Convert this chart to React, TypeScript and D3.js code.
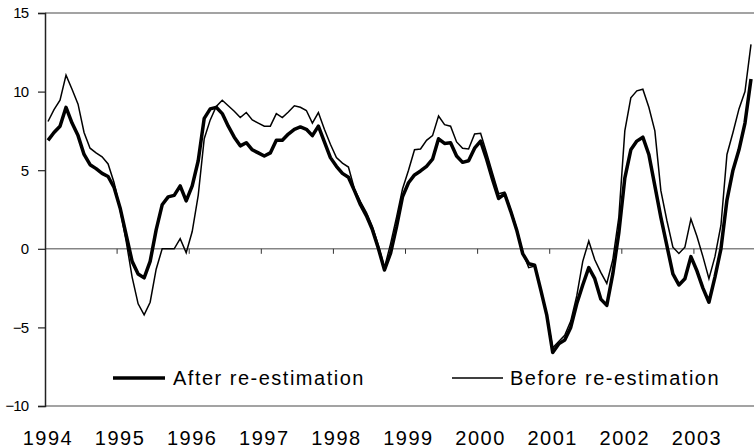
import { useEffect, useRef } from 'react';
import * as d3 from 'd3';

// monthly, Jan 1994 .. Oct 2003
const years = ['1994', '1995', '1996', '1997', '1998', '1999', '2000', '2001', '2002', '2003'];

const afterValues = [
  // 1994
  6.9, 7.4, 7.8, 9.0, 8.0, 7.2, 6.0, 5.35, 5.1, 4.8, 4.6, 3.9,
  // 1995
  2.6, 0.9, -0.8, -1.6, -1.85, -0.8, 1.2, 2.8, 3.3, 3.4, 4.0, 3.05,
  // 1996
  4.0, 5.6, 8.3, 8.9, 9.0, 8.6, 7.8, 7.1, 6.55, 6.75, 6.3, 6.1,
  // 1997
  5.9, 6.1, 6.9, 6.9, 7.3, 7.6, 7.75, 7.6, 7.2, 7.8, 6.8, 5.8,
  // 1998
  5.25, 4.8, 4.55, 3.7, 2.8, 2.1, 1.2, 0.0, -1.35, -0.3, 1.4, 3.3,
  // 1999
  4.2, 4.7, 4.95, 5.25, 5.7, 7.0, 6.7, 6.75, 5.9, 5.5, 5.6, 6.4,
  // 2000
  6.85, 5.7, 4.4, 3.2, 3.5, 2.4, 1.2, -0.3, -0.95, -1.05, -2.6, -4.2,
  // 2001
  -6.6, -6.05, -5.8, -5.0, -3.5, -2.3, -1.2, -1.9, -3.2, -3.6, -1.6, 1.0,
  // 2002
  4.5, 6.3, 6.85, 7.1, 6.0, 4.0, 2.0, 0.2, -1.6, -2.3, -1.9, -0.5,
  // 2003
  -1.4, -2.5, -3.4, -1.8, 0.0, 3.1, 5.0, 6.3, 8.0, 10.8,
];

const beforeValues = [
  // 1994
  8.1, 8.85, 9.45, 11.05, 10.15, 9.2, 7.4, 6.4, 6.1, 5.85, 5.4, 4.2,
  // 1995
  2.5, 0.5, -1.8, -3.5, -4.2, -3.4, -1.3, 0.0, 0.0, 0.0, 0.65, -0.25,
  // 1996
  1.1, 3.4, 7.0, 8.2, 9.05, 9.45, 9.1, 8.75, 8.35, 8.67, 8.2, 8.0,
  // 1997
  7.8, 7.8, 8.6, 8.35, 8.7, 9.1, 9.0, 8.8, 8.0, 8.67, 7.6, 6.65,
  // 1998
  5.8, 5.45, 5.2, 3.8, 3.0, 2.3, 1.4, 0.2, -1.2, 0.3, 2.0, 3.8,
  // 1999
  5.0, 6.3, 6.35, 6.9, 7.2, 8.45, 7.9, 7.8, 6.8, 6.4, 6.35, 7.3,
  // 2000
  7.35, 6.1, 4.8, 3.5, 3.6, 2.5, 1.3, -0.2, -1.2, -1.1, -2.6, -4.2,
  // 2001
  -6.3, -5.9, -5.5, -4.6, -3.0, -0.8, 0.5, -0.7, -1.5, -2.2, -0.7, 2.0,
  // 2002
  7.5, 9.6, 10.05, 10.15, 9.0, 7.5, 3.7, 1.8, 0.1, -0.3, 0.1, 1.9,
  // 2003
  0.8, -0.5, -1.9, -0.5, 1.5, 6.0, 7.4, 8.9, 10.0, 13.0,
];

const yTicks = [-10, -5, 0, 5, 10, 15];
const legendLabels = ['After re-estimation', 'Before re-estimation'];

const FONT = "'Liberation Sans', Arial, sans-serif";

export default function App() {
  const svgRef = useRef<SVGSVGElement>(null);

  useEffect(() => {
    if (!svgRef.current) return;
    const width = 754;
    const height = 448;
    const margin = { top: 13, right: 0, bottom: 42, left: 45 };

    const svg = d3.select(svgRef.current);
    svg.selectAll('*').remove();

    const n = afterValues.length;
    const x = d3
      .scaleLinear()
      .domain([-0.5, n - 0.5])
      .range([margin.left, width - margin.right]);
    const y = d3
      .scaleLinear()
      .domain([-10, 15])
      .range([height - margin.bottom, margin.top]);

    // horizontal frame lines + zero line
    [15, -10, 0].forEach((v) => {
      svg
        .append('line')
        .attr('x1', margin.left)
        .attr('x2', width - margin.right)
        .attr('y1', y(v))
        .attr('y2', y(v))
        .attr('stroke', '#858585')
        .attr('stroke-width', 1.5);
    });

    // year ticks on the zero line
    years.slice(1).forEach((_, i) => {
      const xi = x((i + 1) * 12 - 0.5);
      svg
        .append('line')
        .attr('x1', xi)
        .attr('x2', xi)
        .attr('y1', y(0))
        .attr('y2', y(0) + 5)
        .attr('stroke', '#333')
        .attr('stroke-width', 1);
    });

    // Y axis
    const yAxis = svg
      .append('g')
      .attr('transform', `translate(${margin.left},0)`)
      .call(d3.axisLeft(y).tickValues(yTicks).tickSize(7).tickPadding(10));
    yAxis.select('.domain').attr('stroke', '#222').attr('stroke-width', 1.5);
    yAxis.selectAll('.tick line').attr('stroke', '#222').attr('stroke-width', 1.2);
    yAxis
      .selectAll('.tick text')
      .attr('fill', '#000')
      .style('font-family', FONT)
      .style('font-size', '15px')
      .style('letter-spacing', '-1px');

    // X labels
    svg
      .append('g')
      .selectAll('text')
      .data(years)
      .join('text')
      .attr('x', (_, i) => x(i * 12))
      .attr('y', 445)
      .attr('text-anchor', 'middle')
      .style('font-family', FONT)
      .style('font-size', '20px')
      .style('letter-spacing', '1.5px')
      .text((d) => d);

    const line = d3
      .line<number>()
      .x((_, i) => x(i))
      .y((d) => y(d));

    svg
      .append('path')
      .datum(beforeValues)
      .attr('fill', 'none')
      .attr('stroke', '#000')
      .attr('stroke-width', 1.5)
      .attr('stroke-linejoin', 'miter')
      .attr('d', line);

    svg
      .append('path')
      .datum(afterValues)
      .attr('fill', 'none')
      .attr('stroke', '#000')
      .attr('stroke-width', 3.5)
      .attr('stroke-linejoin', 'round')
      .attr('d', line);

    // Legend
    const legend = [
      { label: legendLabels[0], x1: 113, x2: 165, tx: 173, w: 3.5 },
      { label: legendLabels[1], x1: 452, x2: 503, tx: 510, w: 1.5 },
    ];
    legend.forEach((l) => {
      svg
        .append('line')
        .attr('x1', l.x1)
        .attr('x2', l.x2)
        .attr('y1', 378)
        .attr('y2', 378)
        .attr('stroke', '#000')
        .attr('stroke-width', l.w);
      svg
        .append('text')
        .attr('x', l.tx)
        .attr('y', 385)
        .style('font-family', FONT)
        .style('font-size', '20px')
        .style('letter-spacing', '1.5px')
        .text(l.label);
    });
  }, []);

  return (
    <svg
      ref={svgRef}
      width={754}
      height={448}
      style={{ position: 'absolute', left: 0, top: 0, background: '#fff' }}
    />
  );
}
